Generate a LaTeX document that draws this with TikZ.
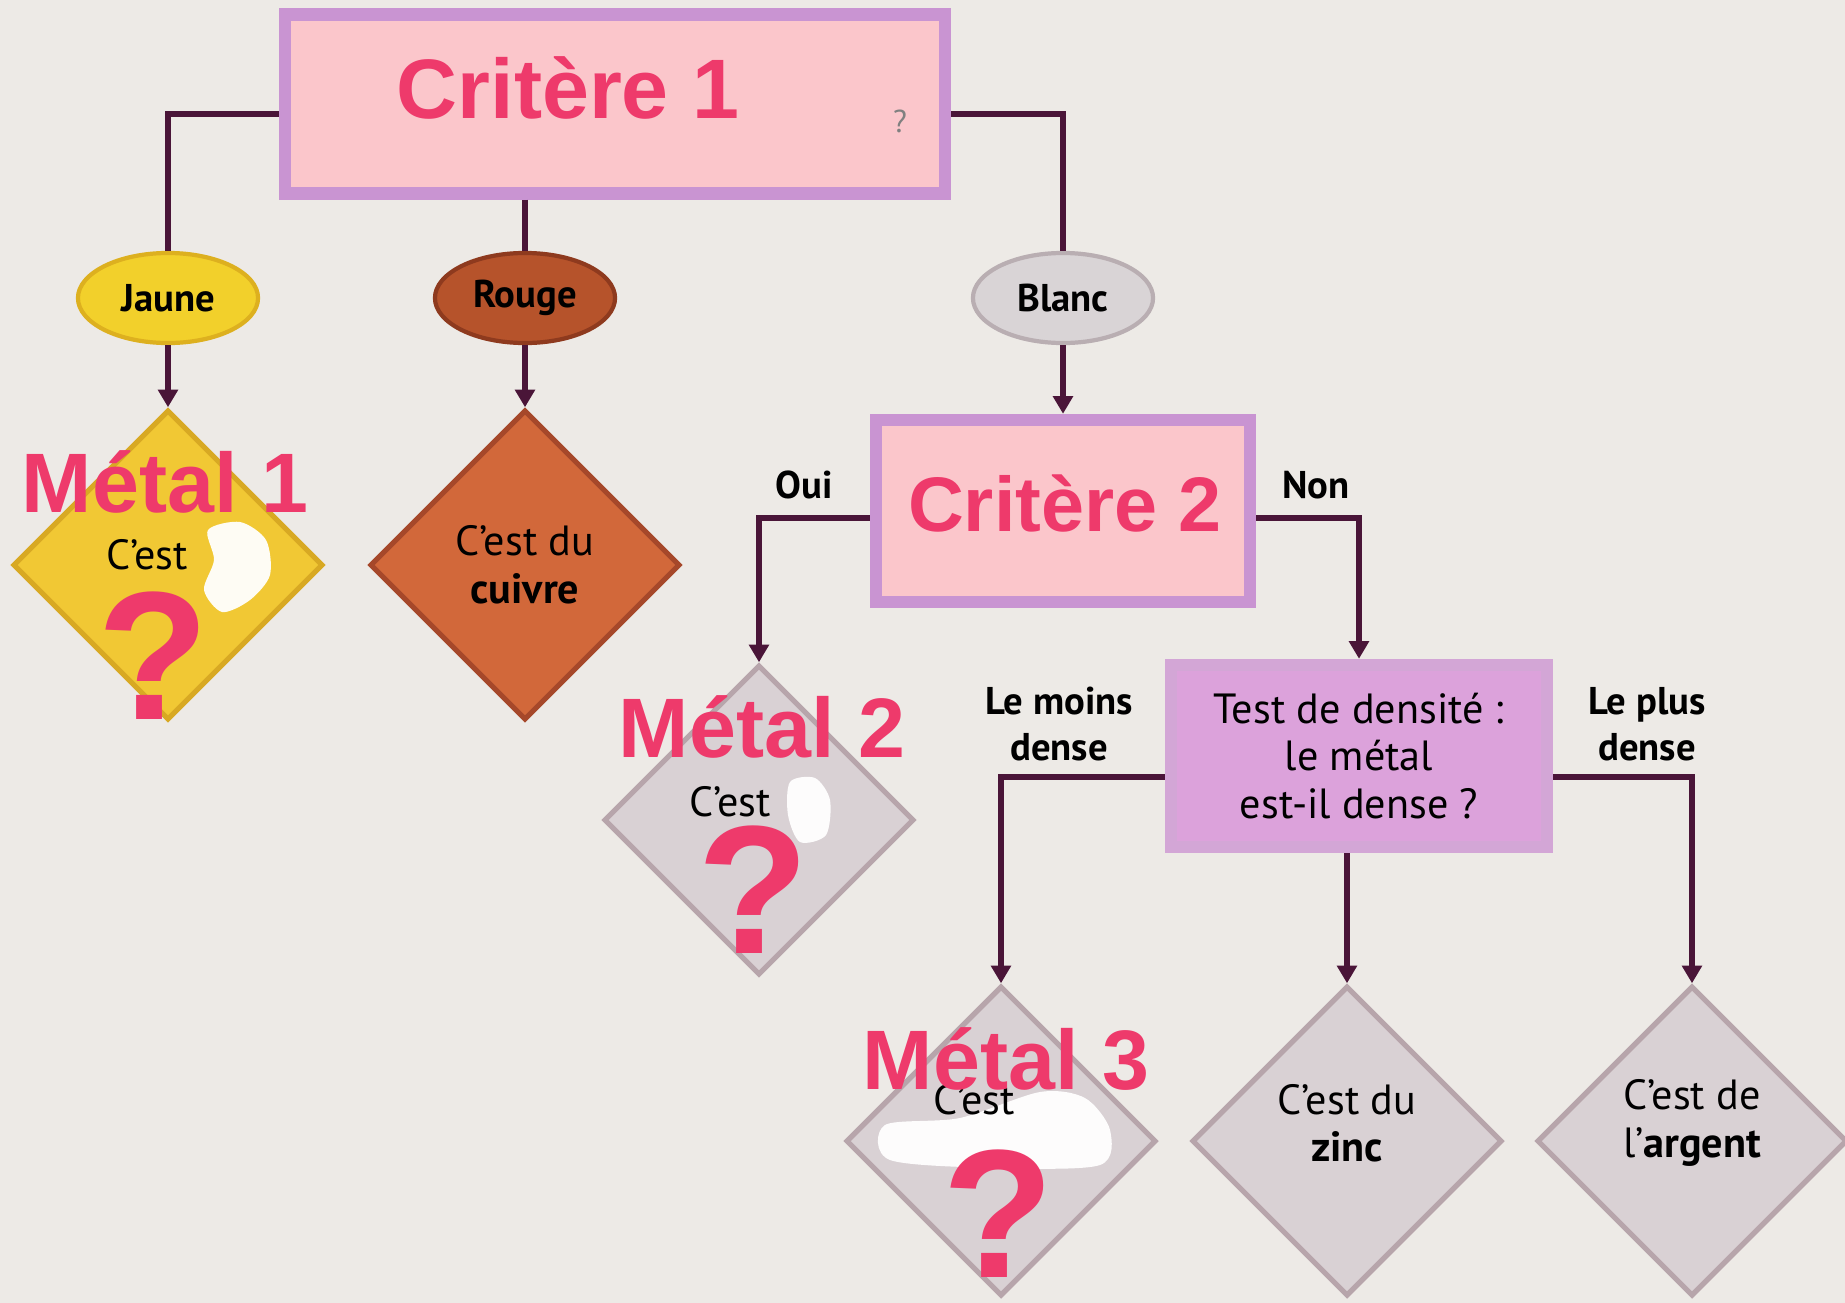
\documentclass[tikz,border=0pt]{standalone}
\usepackage{fontspec}
\setmainfont{PT Sans}
\newfontfamily\pinkfont{Liberation Sans}
\usetikzlibrary{shapes.geometric,arrows.meta,calc}
\definecolor{paper}{HTML}{EDEAE6}
\definecolor{connc}{HTML}{4A1538}
\definecolor{pinkfill}{HTML}{FBC6CB}
\definecolor{boxedge}{HTML}{C994D2}
\definecolor{testfill}{HTML}{DCA2DB}
\definecolor{testedge}{HTML}{D3A6D6}
\definecolor{hot}{HTML}{EE3A6B}
\definecolor{jaunec}{HTML}{F2D02B}
\definecolor{jauneedge}{HTML}{DDB01F}
\definecolor{rougec}{HTML}{B6532B}
\definecolor{rougeedge}{HTML}{8E3A1E}
\definecolor{blancc}{HTML}{D9D4D6}
\definecolor{blancedge}{HTML}{B9AEB2}
\definecolor{yeldia}{HTML}{F1C834}
\definecolor{yeledge}{HTML}{D8A923}
\definecolor{orgdia}{HTML}{D2683A}
\definecolor{orgedge}{HTML}{A6482A}
\definecolor{greydia}{HTML}{D9D1D4}
\definecolor{greyedge}{HTML}{B7A5AB}
\begin{document}
\begin{tikzpicture}[x=0.01cm,y=-0.01cm,
  conn/.style={draw=connc, line width=1.7pt},
  arr/.style={conn, -{Triangle[width=5.5pt,length=5pt]}},
  ell/.style={ellipse, minimum width=1.8cm, minimum height=0.9cm, inner sep=0pt, line width=1.2pt, font=\bfseries\fontsize{11}{13}\selectfont},
  dia/.style={diamond, minimum width=3.1cm, minimum height=3.1cm, inner sep=0pt, line width=1.5pt},
  critbox/.style={rectangle, fill=pinkfill, draw=boxedge, line width=3.5pt},
  pinklbl/.style={text=hot, font=\pinkfont\bfseries\fontsize{24}{24}\selectfont, inner sep=0pt},
  qmark/.style={text=hot, font=\pinkfont\bfseries\fontsize{52}{52}\selectfont, inner sep=0pt},
  body/.style={font=\fontsize{12}{13.5}\selectfont, align=center, inner sep=0pt},
  lbl/.style={font=\bfseries\fontsize{11}{13}\selectfont, align=center, inner sep=0pt},
  blob/.style={fill=white, opacity=0.95}
]
\fill[paper] (0,0) rectangle (1845,1303);
\useasboundingbox (0,0) rectangle (1845,1303);

% boxes
\node[critbox, minimum width=6.6cm, minimum height=1.79cm] (c1) at (615,104) {};
\node[pinklbl] (t1) at (568,88) {Critère 1};
\node[text=gray, font=\fontsize{9}{9}\selectfont, inner sep=0pt] (q0) at (900,121) {?};
\node[critbox, minimum width=3.74cm, minimum height=1.82cm] (c2) at (1063,511) {};
\node[pinklbl, font=\pinkfont\bfseries\fontsize{22}{22}\selectfont] (t2) at (1065,504) {Critère 2};
\node[rectangle, fill=testfill, draw=testedge, line width=3.5pt, minimum width=3.76cm, minimum height=1.82cm, body] (test) at (1359,756) {Test de densité :\\le métal\\est-il dense ?};

% ellipses
\node[ell, fill=jaunec, draw=jauneedge] (jaune) at (168,298) {Jaune};
\node[ell, fill=rougec, draw=rougeedge] (rouge) at (525,298) {Rouge};
\node[ell, fill=blancc, draw=blancedge] (blanc) at (1063,298) {Blanc};

% diamonds
\node[dia, fill=yeldia, draw=yeledge] (d1) at (168,565) {};
\node[dia, fill=orgdia, draw=orgedge, body] (d2) at (525,565) {C'est du\\\textbf{cuivre}};
\node[dia, fill=greydia, draw=greyedge] (d3) at (759,820) {};
\node[dia, fill=greydia, draw=greyedge] (d4) at (1001,1141) {};
\node[dia, fill=greydia, draw=greyedge] (d5) at (1347,1141) {};
\node[dia, fill=greydia, draw=greyedge] (d6) at (1692,1141) {};
\node[body] (z5) at (1347,1123) {C'est du\\\textbf{zinc}};
\node[body] (z6) at (1692,1123) {C'est de\\l'\textbf{argent}};

% erased patches
\fill[blob] plot[smooth cycle] coordinates {(208,530) (240,522) (266,540) (270,575) (250,600) (222,612) (204,590) (214,560)};
\fill[blob] plot[smooth cycle] coordinates {(790,782) (815,778) (830,800) (826,835) (800,842) (788,815)};
\fill[blob] plot[smooth cycle] coordinates {(885,1125) (960,1118) (1040,1092) (1085,1098) (1110,1130) (1100,1165) (1000,1168) (890,1160)};

% connectors
\draw[conn] ($(c1.west)+(0,10)$) -| (jaune.north);
\draw[conn] (rouge.north |- c1.south) -- (rouge.north);
\draw[conn] ($(c1.east)+(0,10)$) -| (blanc.north);
\draw[arr] (jaune.south) -- (d1.north);
\draw[arr] (rouge.south) -- (d2.north);
\draw[arr] (blanc.south) -- (c2.north);
\draw[arr] ($(c2.west)+(0,7)$) -| (d3.north);
\draw[arr] ($(c2.east)+(0,7)$) -| (test.north);
\draw[arr] ($(test.west)+(0,21)$) -| (d4.north);
\draw[arr] (test.south -| d5.north) -- (d5.north);
\draw[arr] ($(test.east)+(0,21)$) -| (d6.north);

% branch labels
\node[lbl] (oui) at (804,485) {Oui};
\node[lbl] (non) at (1316,485) {Non};
\node[lbl] (moins) at (1059,724) {Le moins\\dense};
\node[lbl] (plus) at (1647,724) {Le plus\\dense};

% unknown metals
\node[body] (ce1) at (147,555) {C'est};
\node[body] (ce2) at (730,802) {C'est};
\node[body] (ce3) at (974,1100) {C'est};
\node[pinklbl] (m1) at (165,482) {Métal 1};
\node[pinklbl] (m2) at (762,727) {Métal 2};
\node[pinklbl] (m3) at (1006,1059) {Métal 3};
\node[qmark] (q1) at (153,656) {?};
\node[qmark] (q2) at (753,890) {?};
\node[qmark] (q3) at (998,1214) {?};
\end{tikzpicture}
\end{document}
